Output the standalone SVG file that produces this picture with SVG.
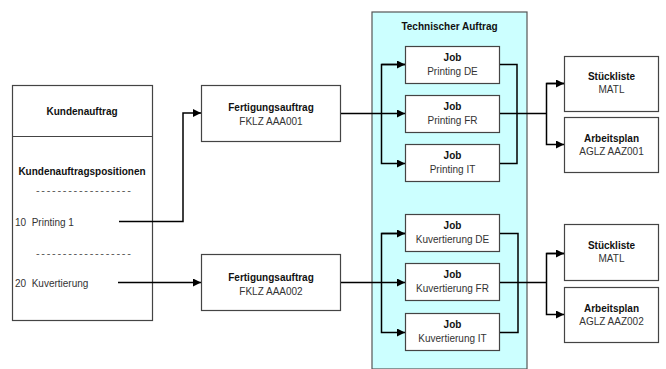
<svg xmlns="http://www.w3.org/2000/svg" width="666" height="369" viewBox="0 0 666 369">
<defs>
<style>
text{font-family:"Liberation Sans",Arial,sans-serif;font-size:10px;fill:#333}
.b{font-weight:bold;fill:#111}
.m{text-anchor:middle}
.box{fill:#fff;stroke:#444;stroke-width:1.2}
.c{fill:none;stroke:#000;stroke-width:1.5}
.d{font-size:11px;letter-spacing:1.7px;fill:#555}
</style>
<marker id="ah" viewBox="0 0 10 10" refX="10" refY="5" markerWidth="8" markerHeight="8" markerUnits="userSpaceOnUse" orient="auto">
<path d="M0,0L10,5L0,10z" fill="#000"/>
</marker>
</defs>
<rect width="666" height="369" fill="#fff"/>
<g id="technischer-auftrag">
<rect x="372" y="12" width="155" height="357" fill="#ccffff" stroke="#555" stroke-width="1.2"/>
<text class="b m" x="449.5" y="29.5">Technischer Auftrag</text>
</g>
<g id="kundenauftrag">
<rect class="box" x="12.5" y="85.5" width="140" height="235"/>
<line x1="12.5" y1="136.5" x2="152.5" y2="136.5" stroke="#444" stroke-width="1.2"/>
<text class="b m" x="82" y="114.5">Kundenauftrag</text>
<text class="b m" x="82" y="174.5">Kundenauftragspositionen</text>
<text class="d" x="36" y="193.5">------------------</text>
<text x="15" y="225.5" xml:space="preserve">10  Printing 1</text>
<text class="d" x="36" y="256.5">------------------</text>
<text x="15" y="286.5" xml:space="preserve">20  Kuvertierung</text>
</g>
<g id="fa1">
<rect class="box" x="201.5" y="85.5" width="139" height="56"/>
<text class="b m" x="271" y="110.5">Fertigungsauftrag</text>
<text class="m" x="271" y="124.5">FKLZ AAA001</text>
</g>
<g id="fa2">
<rect class="box" x="201.5" y="254.5" width="139" height="56"/>
<text class="b m" x="271" y="280.5">Fertigungsauftrag</text>
<text class="m" x="271" y="294.5">FKLZ AAA002</text>
</g>
<g id="job-printing-de">
<rect class="box" x="405.5" y="46.5" width="94" height="37"/>
<text class="b m" x="452.5" y="61">Job</text>
<text class="m" x="452.5" y="74.5">Printing DE</text>
</g>
<g id="job-printing-fr">
<rect class="box" x="405.5" y="95.5" width="94" height="37"/>
<text class="b m" x="452.5" y="110">Job</text>
<text class="m" x="452.5" y="123.5">Printing FR</text>
</g>
<g id="job-printing-it">
<rect class="box" x="405.5" y="144.5" width="94" height="37"/>
<text class="b m" x="452.5" y="159">Job</text>
<text class="m" x="452.5" y="172.5">Printing IT</text>
</g>
<g id="job-kuv-de">
<rect class="box" x="405.5" y="214.5" width="94" height="37"/>
<text class="b m" x="452.5" y="229">Job</text>
<text class="m" x="452.5" y="242.5">Kuvertierung DE</text>
</g>
<g id="job-kuv-fr">
<rect class="box" x="405.5" y="263.5" width="94" height="37"/>
<text class="b m" x="452.5" y="278">Job</text>
<text class="m" x="452.5" y="291.5">Kuvertierung FR</text>
</g>
<g id="job-kuv-it">
<rect class="box" x="405.5" y="313.5" width="94" height="37"/>
<text class="b m" x="452.5" y="328">Job</text>
<text class="m" x="452.5" y="341.5">Kuvertierung IT</text>
</g>
<g id="stueckliste1">
<rect class="box" x="564.5" y="56.5" width="94" height="55"/>
<text class="b m" x="611.5" y="80">Stückliste</text>
<text class="m" x="611.5" y="93">MATL</text>
</g>
<g id="arbeitsplan1">
<rect class="box" x="564.5" y="117.5" width="94" height="55"/>
<text class="b m" x="611.5" y="141.5">Arbeitsplan</text>
<text class="m" x="611.5" y="154.5">AGLZ AAZ001</text>
</g>
<g id="stueckliste2">
<rect class="box" x="564.5" y="224.5" width="94" height="56"/>
<text class="b m" x="611.5" y="248.5">Stückliste</text>
<text class="m" x="611.5" y="261.5">MATL</text>
</g>
<g id="arbeitsplan2">
<rect class="box" x="564.5" y="287.5" width="94" height="55"/>
<text class="b m" x="611.5" y="311.5">Arbeitsplan</text>
<text class="m" x="611.5" y="324.5">AGLZ AAZ002</text>
</g>
<g id="connectors">
<path class="c" d="M119,221.5H183V113H201" marker-end="url(#ah)"/>
<path class="c" d="M118,282.5H201" marker-end="url(#ah)"/>
<path class="c" d="M341,113.5H405" marker-end="url(#ah)"/>
<path class="c" d="M405,64.5H381.5V163.5H405" marker-end="url(#ah)"/>
<path class="c" d="M381.5,64.5H405" marker-end="url(#ah)"/>
<path class="c" d="M500,64.5H517V163.5H500"/>
<path class="c" d="M500,113.5H546"/>
<path class="c" d="M564,83.5H546.5V144.5H564" marker-end="url(#ah)"/>
<path class="c" d="M546.5,83.5H564" marker-end="url(#ah)"/>
<path class="c" d="M341,282.5H405" marker-end="url(#ah)"/>
<path class="c" d="M405,233.5H381.5V332.5H405" marker-end="url(#ah)"/>
<path class="c" d="M381.5,233.5H405" marker-end="url(#ah)"/>
<path class="c" d="M500,233.5H518V332.5H500"/>
<path class="c" d="M500,282.5H546"/>
<path class="c" d="M564,253.5H546.5V314.5H564" marker-end="url(#ah)"/>
<path class="c" d="M546.5,253.5H564" marker-end="url(#ah)"/>
</g>
</svg>
